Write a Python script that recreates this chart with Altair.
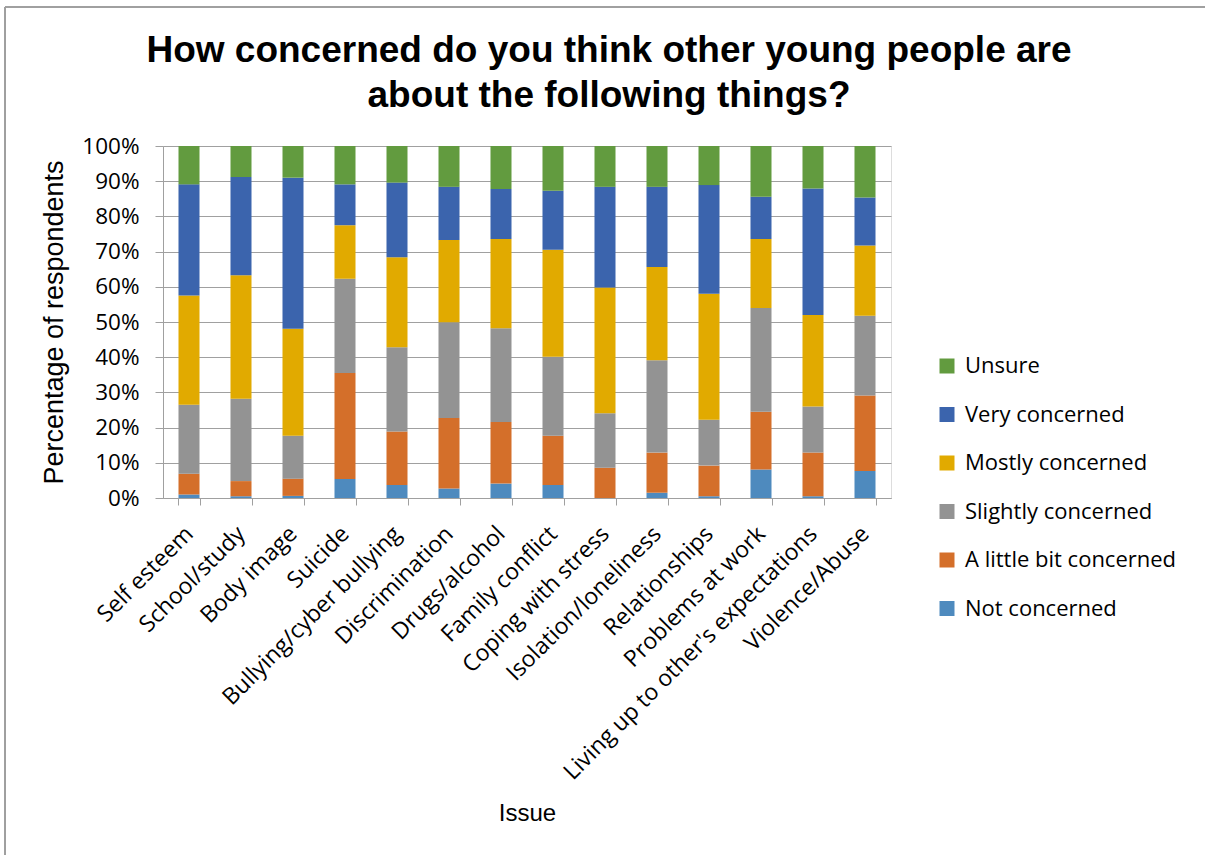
import altair as alt
import pandas as pd

issues = ["Self esteem", "School/study", "Body image", "Suicide", "Bullying/cyber bullying",
          "Discrimination", "Drugs/alcohol", "Family conflict", "Coping with stress",
          "Isolation/loneliness", "Relationships", "Problems at work",
          "Living up to other's expectations", "Violence/Abuse"]

not_concerned = [1.0, 0.5, 0.6, 5.4, 3.7, 2.7, 4.1, 3.7, 0.0, 1.5, 0.5, 8.1, 0.5, 7.7]
little_bit = [5.9, 4.3, 4.9, 30.1, 15.2, 20.0, 17.5, 14.0, 8.6, 11.4, 8.7, 16.4, 12.4, 21.4]
slightly = [19.6, 23.4, 12.2, 26.8, 23.9, 27.2, 26.6, 22.4, 15.5, 26.2, 13.0, 29.5, 13.1, 22.7]
mostly = [31.0, 35.1, 30.4, 15.2, 25.6, 23.4, 25.4, 30.4, 35.7, 26.5, 35.8, 19.6, 26.0, 19.9]
very = [31.6, 27.9, 42.9, 11.6, 21.2, 15.1, 14.2, 16.8, 28.6, 22.8, 30.9, 12.0, 35.9, 13.7]
unsure = [10.9, 8.8, 9.0, 10.9, 10.4, 11.6, 12.2, 12.7, 11.6, 11.6, 11.1, 14.4, 12.1, 14.6]

series_names = ["Not concerned", "A little bit concerned", "Slightly concerned",
                "Mostly concerned", "Very concerned", "Unsure"]
series_values = [not_concerned, little_bit, slightly, mostly, very, unsure]
legend_order = ["Unsure", "Very concerned", "Mostly concerned", "Slightly concerned",
                "A little bit concerned", "Not concerned"]
legend_colors = ["#629B3F", "#3B64AD", "#E1AA00", "#939393", "#D46F2A", "#4E8ABE"]

rows = []
for si, (name, vals) in enumerate(zip(series_names, series_values)):
    for issue, v in zip(issues, vals):
        rows.append({"Issue": issue, "Response": name, "Share": v / 100.0, "order": si})
df = pd.DataFrame(rows)

W, H = 728, 352
PL, PT = 163, 146

bars = alt.Chart(df).mark_bar().encode(
    x=alt.X("Issue:N", sort=issues,
            scale=alt.Scale(paddingInner=0.596, paddingOuter=0.298),
            axis=alt.Axis(title="Issue", labelAngle=-45, labelAlign="right",
                          labelBaseline="middle", labelFont="Open Sans",
                          labelFontSize=23, labelColor="#000000", labelPadding=25,
                          tickBand="extent", tickSize=7, tickColor="#A0A0A0",
                          domainColor="#A0A0A0", labelLimit=600,
                          titleFont="Liberation Sans", titleFontSize=24,
                          titleFontWeight="normal", titleColor="#000000",
                          titleX=364, titleY=322, titleAlign="center",
                          titleBaseline="alphabetic")),
    y=alt.Y("Share:Q", stack="zero",
            scale=alt.Scale(domain=[0, 1], nice=False),
            axis=alt.Axis(title="Percentage of respondents", format=".0%",
                          values=[i / 10 for i in range(11)],
                          labelFont="Open Sans", labelFontSize=22.5, labelColor="#000000",
                          labelPadding=16, tickSize=8, tickColor="#A0A0A0",
                          domainColor="#A0A0A0", gridColor="#A0A0A0", gridWidth=1.2,
                          titleFont="Liberation Sans", titleFontSize=27,
                          titleFontWeight="normal", titleColor="#000000",
                          titleX=-101, titleY=176, titleAlign="center",
                          titleBaseline="alphabetic", titleAngle=-90)),
    color=alt.Color("Response:N",
                    scale=alt.Scale(domain=legend_order, range=legend_colors),
                    legend=alt.Legend(title=None, orient="none", legendX=773, legendY=209,
                                      symbolType="square", symbolSize=225,
                                      symbolStrokeWidth=0, labelFont="Open Sans",
                                      labelFontSize=22, labelColor="#000000",
                                      labelLimit=400,
                                      rowPadding=26.5, labelOffset=7)),
    order=alt.Order("order:Q", sort="ascending"),
)

border_left = alt.Chart(df).mark_rule(color="#A0A0A0", strokeWidth=1.3).encode(
    x=alt.value(5 - PL), y=alt.value(7 - PT), y2=alt.value(855 - PT))
border_top = alt.Chart(df).mark_rule(color="#A0A0A0", strokeWidth=1.3).encode(
    x=alt.value(5 - PL), x2=alt.value(1205 - PL), y=alt.value(7 - PT))

chart = alt.layer(bars, border_left, border_top).properties(
    width=W, height=H,
    title=alt.TitleParams(
        text=["How concerned do you think other young people are",
              "about the following things?"],
        font="Liberation Sans", fontSize=37, fontWeight="bold", color="#000000",
        anchor="middle", frame="group", dx=82, offset=-109, lineHeight=45),
    padding={"left": PL, "top": PT, "right": 1205 - PL - W, "bottom": 855 - PT - H},
    autosize=alt.AutoSizeParams(type="none"),
).configure_view(stroke=None).configure(background="white")

chart.save("out.html", embed_options={"renderer": "svg", "actions": False})
